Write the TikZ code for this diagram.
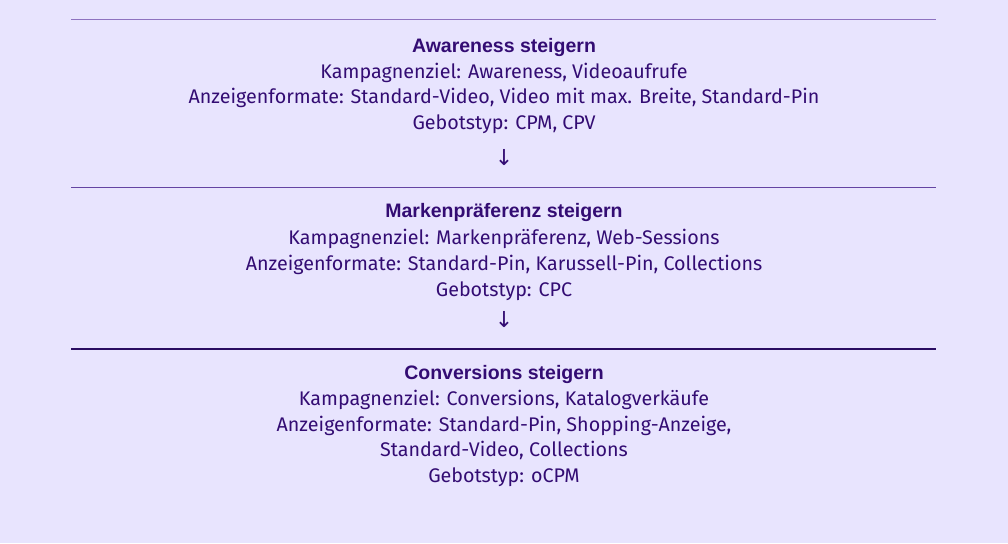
\documentclass[tikz,border=0pt]{standalone}
\usepackage{fontspec}
\setmainfont{Fira Sans}
\newfontfamily\kopffont{Liberation Sans}
\newfontfamily\pfeilfont{DejaVu Sans}
\usetikzlibrary{positioning}
\definecolor{bg}{HTML}{E8E4FE}
\definecolor{ink}{HTML}{330C73}
\definecolor{ruleA}{HTML}{8E72C0}
\definecolor{ruleB}{HTML}{6444A2}
\definecolor{ruleC}{HTML}{2A0C62}
\tikzset{
    head/.style={inner sep=0pt, text=ink, font=\kopffont\bfseries\fontsize{19.5}{23}\selectfont, anchor=base},
    body/.style={inner sep=0pt, text=ink, align=center, font=\fontsize{19.7}{25.7}\selectfont},
    down/.style={inner sep=0pt, text=ink, font=\pfeilfont\fontsize{22}{24}\selectfont},
    sep/.style={line width=1.5pt}
}

\begin{document}
\begin{tikzpicture}[x=1pt, y=1pt]
  \useasboundingbox[fill=bg] (0,0) rectangle (1008,-543);

  \coordinate(L1w) at (71,-19.5);
  \coordinate(L1e) at (936,-19.5);
  \coordinate(L2w) at (71,-187.5);
  \coordinate(L2e) at (936,-187.5);
  \coordinate(L3w) at (71,-349);
  \coordinate(L3e) at (936,-349);

  % base of a body node is the baseline of its last line
  \node(T1)[head] at (504,-52.5){Awareness steigern};
  \node(B1)[body, below=76.9pt of T1.base, anchor=base]{Kampagnenziel: Awareness, Videoaufrufe\\Anzeigenformate: Standard-Video, Video mit max. Breite, Standard-Pin\\Gebotstyp: CPM, CPV};
  \node(A1)[down] at (504,-157.5){↓};

  \node(T2)[head] at (504,-217.5){Markenpräferenz steigern};
  \node(B2)[body, below=78.5pt of T2.base, anchor=base]{Kampagnenziel: Markenpräferenz, Web-Sessions\\Anzeigenformate: Standard-Pin, Karussell-Pin, Collections\\Gebotstyp: CPC};
  \node(A2)[down] at (504,-320){↓};

  \node(T3)[head] at (504,-379.5){Conversions steigern};
  \node(B3)[body, below=103pt of T3.base, anchor=base]{Kampagnenziel: Conversions, Katalogverkäufe\\Anzeigenformate: Standard-Pin, Shopping-Anzeige,\\Standard-Video, Collections\\Gebotstyp: oCPM};

  \draw[sep, ruleA](L1w)--(L1e);
  \draw[sep, ruleB](L2w)--(L2e);
  \draw[sep, ruleC](L3w)--(L3e);

\end{tikzpicture}
\end{document}
